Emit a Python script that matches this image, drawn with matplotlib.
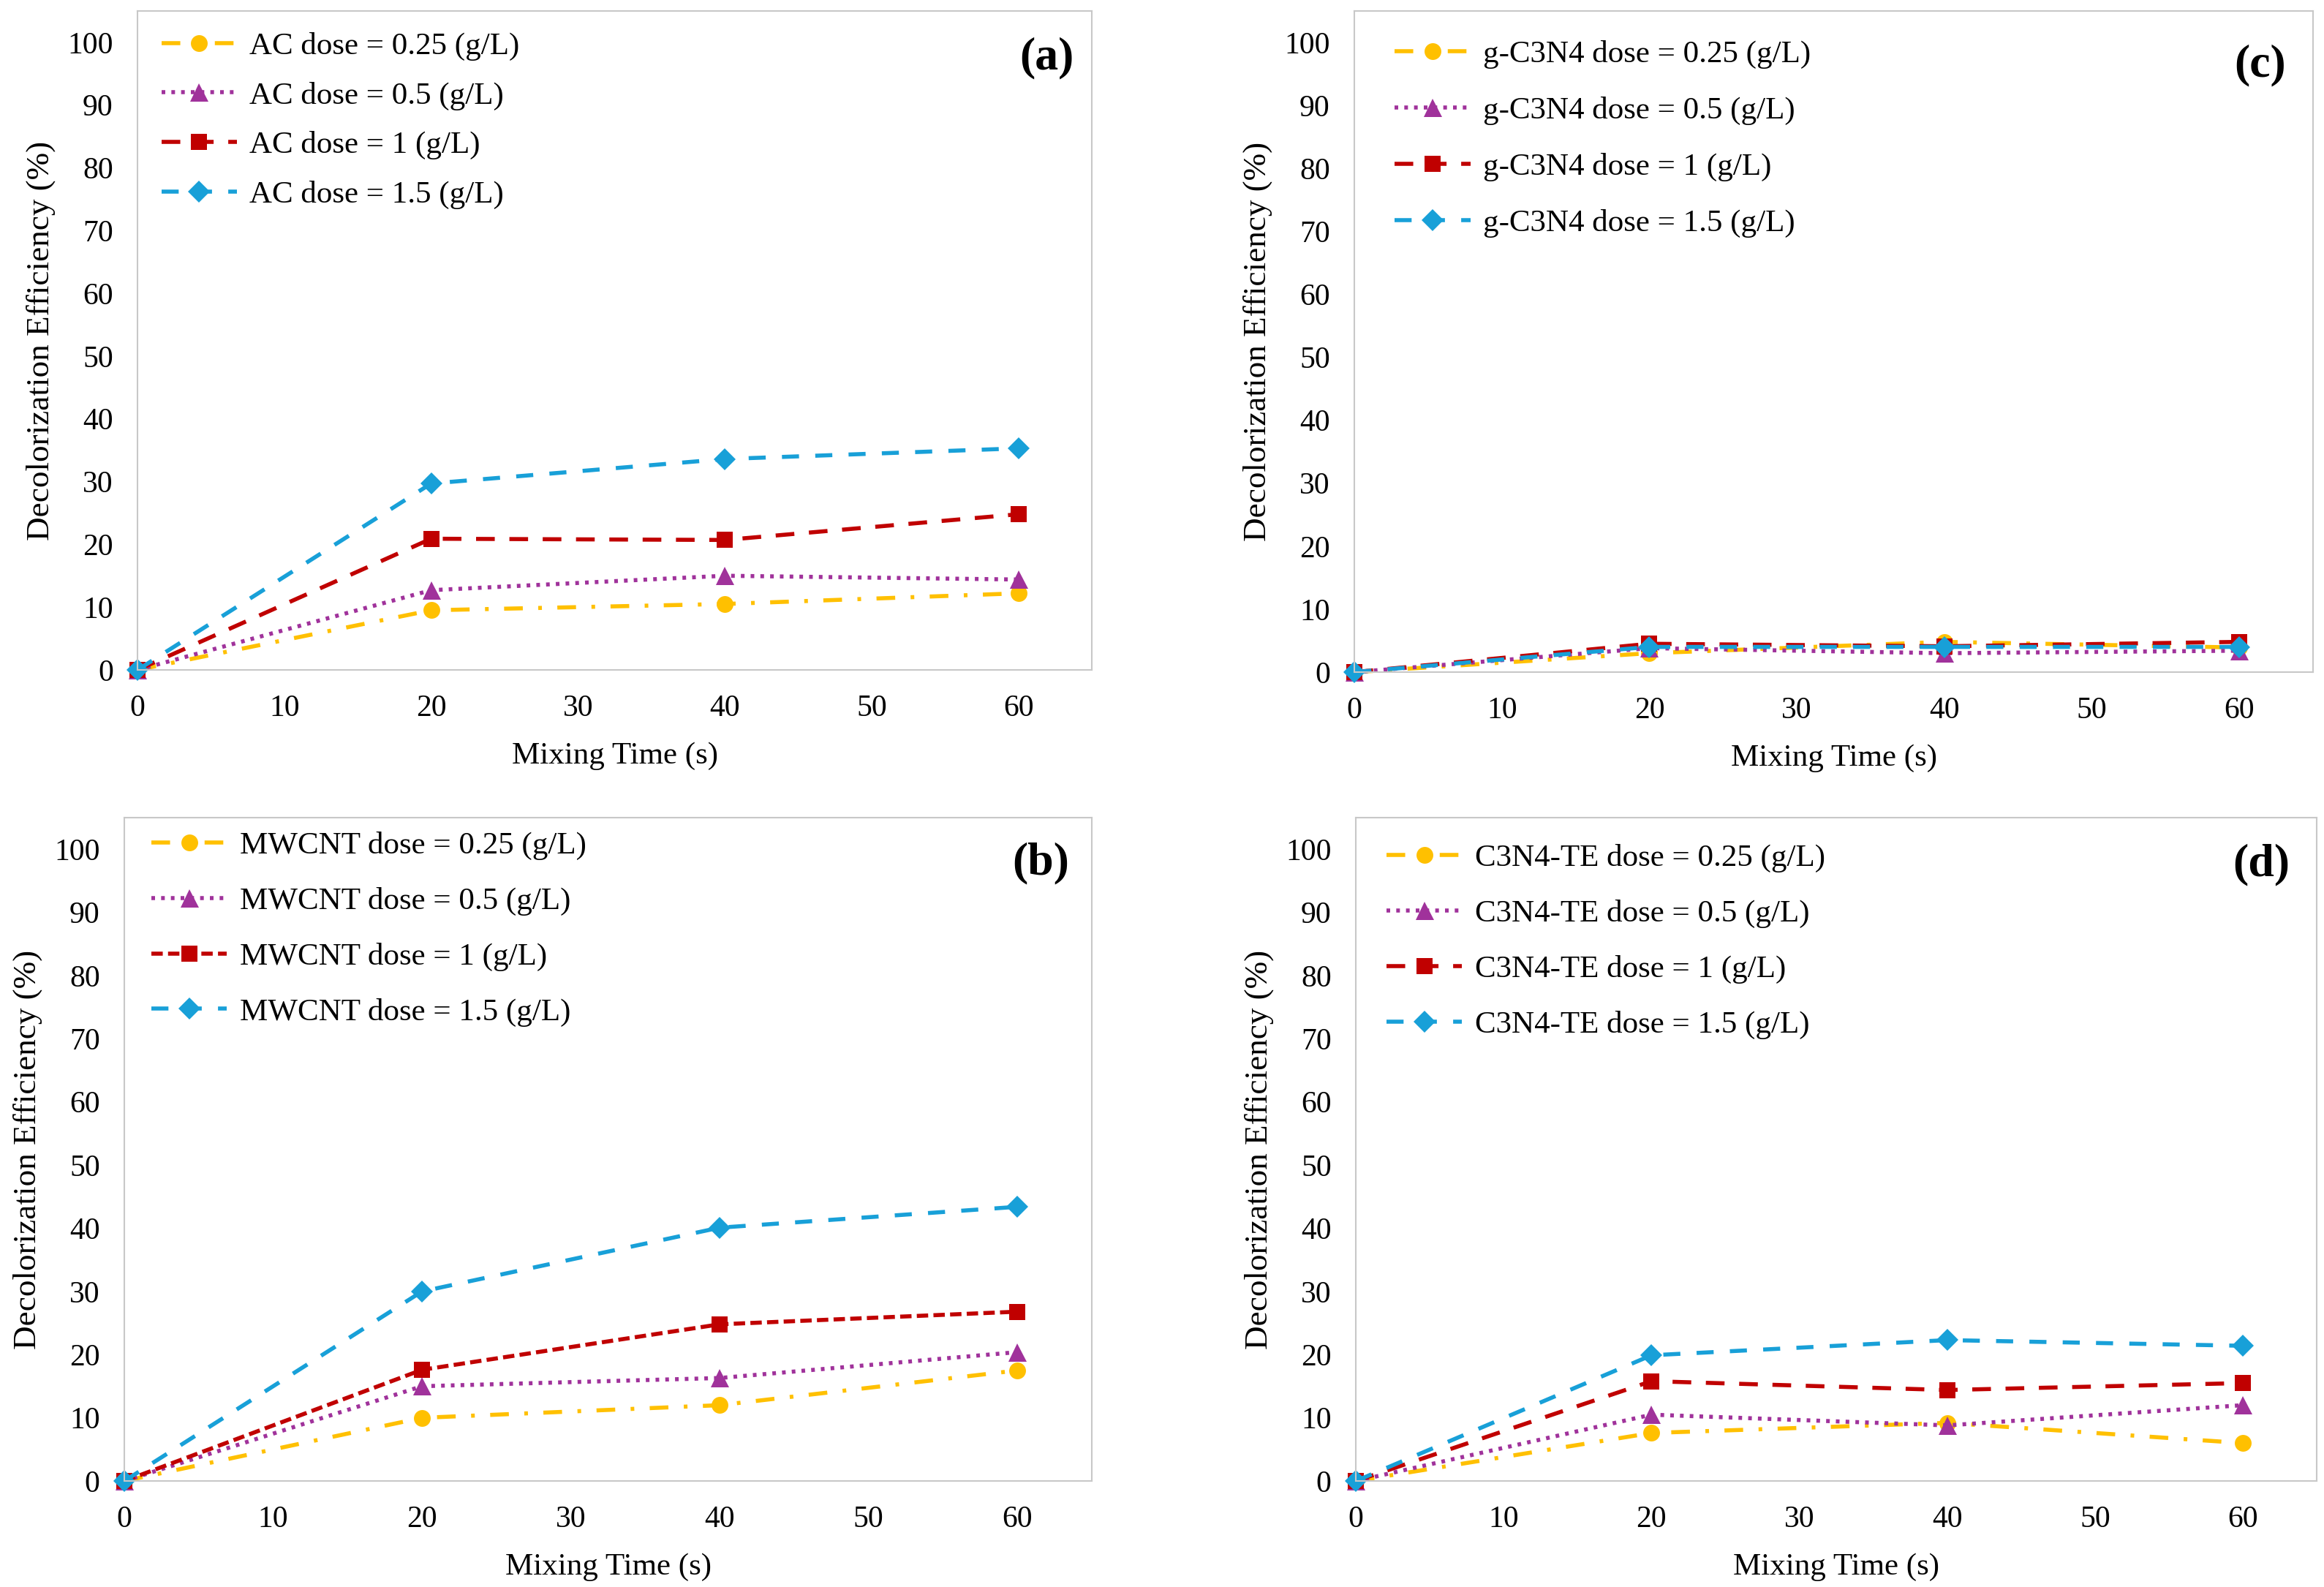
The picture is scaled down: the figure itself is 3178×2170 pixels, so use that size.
import matplotlib
matplotlib.use("Agg")
import matplotlib.pyplot as plt

plt.rcParams['font.family'] = ['Liberation Serif', 'DejaVu Serif']

# data
times = [0, 20, 40, 60]
doses = ["0.25", "0.5", "1", "1.5"]

ac_vals = [
  [0, 9.5, 10.5, 12.2],
  [0, 12.7, 15.0, 14.4],
  [0, 20.9, 20.7, 24.8],
  [0, 29.7, 33.6, 35.3],
]
mwcnt_vals = [
  [0, 10.0, 12.0, 17.5],
  [0, 15.0, 16.3, 20.4],
  [0, 17.6, 24.8, 26.8],
  [0, 30.0, 40.1, 43.4],
]
gc3n4_vals = [
  [0, 3.0, 4.8, 3.9],
  [0, 3.8, 3.0, 3.4],
  [0, 4.5, 4.1, 4.8],
  [0, 4.0, 4.0, 4.0],
]
te_vals = [
  [0, 7.6, 9.2, 6.0],
  [0, 10.5, 8.8, 12.0],
  [0, 15.8, 14.4, 15.5],
  [0, 19.9, 22.3, 21.4],
]

panels = [
  ("AC", ac_vals, "(a)"),
  ("MWCNT", mwcnt_vals, "(b)"),
  ("g-C3N4", gc3n4_vals, "(c)"),
  ("C3N4-TE", te_vals, "(d)"),
]

colors = ['#FFC000', '#A0329B', '#C00000', '#18A0D8']
markers = ['o', '^', 's', 'D']
msizes = [16.5, 18, 16, 15]

# axes rectangles (left, bottom, width, height)
rects = {
  "(a)": [0.0592, 0.5779, 0.4106, 0.4152],
  "(b)": [0.0535, 0.0668, 0.4163, 0.4180],
  "(c)": [0.5828, 0.5765, 0.4125, 0.4166],
  "(d)": [0.5834, 0.0668, 0.4135, 0.4180],
}
leg_anchor = {
  "(a)": (0.025, 0.968),
  "(b)": (0.028, 0.979),
  "(c)": (0.042, 0.956),
  "(d)": (0.032, 0.960),
}
leg_space = {"(a)": 0.66, "(b)": 0.85, "(c)": 0.88, "(d)": 0.85}
# panel tag offset from the top right corner, in pixels
tag_off = {"(a)": (25, 64), "(b)": (31, 62), "(c)": (37, 74), "(d)": (37, 64)}

fig = plt.figure(figsize=(31.78, 21.70), dpi=100)

for name, vals, tag in panels:
  ax = fig.add_axes(rects[tag])

  # red series uses short dashes only in panel (b)
  if tag == "(b)":
    red_dash = (2.8, 1.3)
  else:
    red_dash = (4.6, 3.6)
  dashes = [(4.6, 3.8, 0.9, 3.8), (0.9, 1.5), red_dash, (4.2, 4.0)]

  for i in range(4):
    ax.plot(times, vals[i], color=colors[i], linewidth=4.0,
            dashes=dashes[i], marker=markers[i], markersize=msizes[i],
            markeredgewidth=0, clip_on=False,
            label=f"{name} dose = {doses[i]} (g/L)")

  ax.set_xlim(0, 65)
  ax.set_ylim(0, 105)
  ax.set_xticks(range(0, 61, 10))
  ax.set_yticks(range(0, 101, 10))
  ax.tick_params(length=0, labelsize=30, pad=24)
  for s in ax.spines.values():
    s.set_color('#C8C8C8')
    s.set_linewidth(1.5)

  ax.set_xlabel("Mixing Time (s)", fontsize=31, labelpad=19)
  ax.set_ylabel("Decolorization Efficiency (%)", fontsize=32.5, labelpad=12)

  ax.legend(loc='upper left', bbox_to_anchor=leg_anchor[tag], frameon=False,
            fontsize=31, borderpad=0, borderaxespad=0, handlelength=2.4,
            handletextpad=0.4, labelspacing=leg_space[tag])

  bb = ax.get_position()
  w_px = bb.width * 3178
  h_px = bb.height * 2170
  dx, dy = tag_off[tag]
  ax.text(1 - dx / w_px, 1 - dy / h_px, tag, transform=ax.transAxes,
          ha='right', va='center', fontsize=46, fontweight='bold')

fig.savefig("out.png", dpi=100)
